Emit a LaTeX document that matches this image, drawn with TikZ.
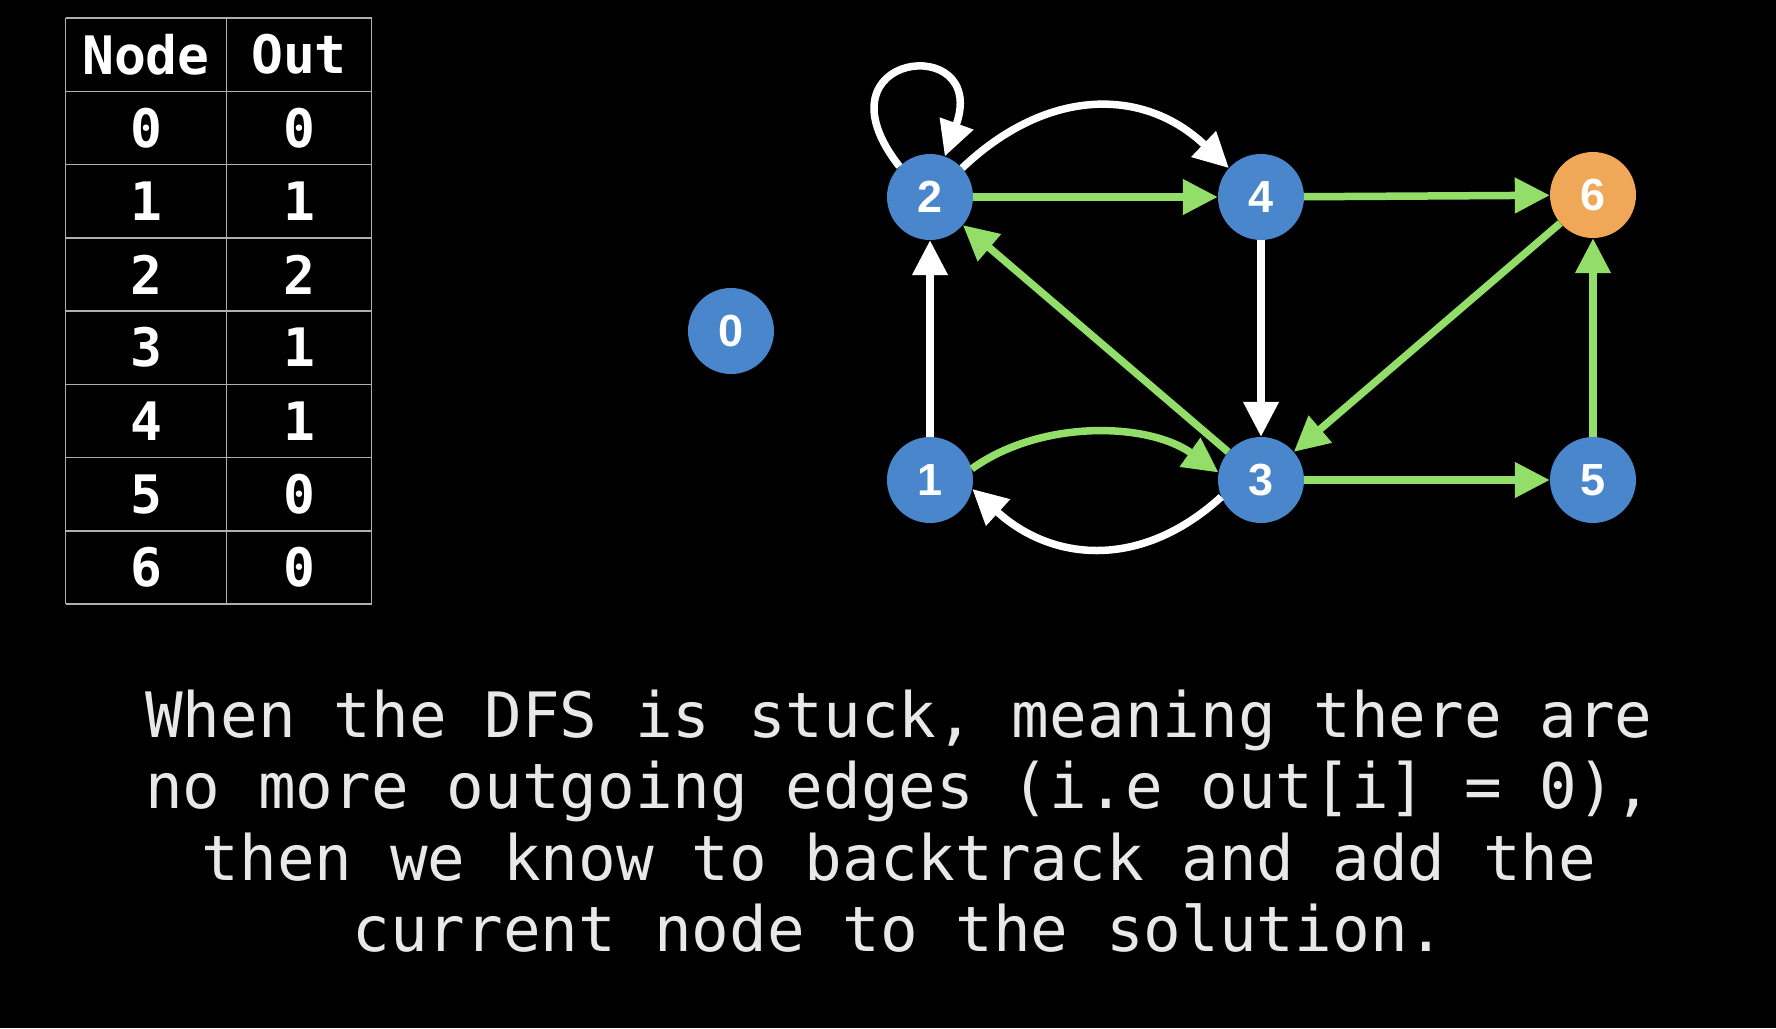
\documentclass[tikz,border=0pt]{standalone}
\usepackage{fontspec}
\setmainfont{Liberation Sans}
\setmonofont{DejaVu Sans Mono}
\usetikzlibrary{arrows.meta}
\definecolor{vertex-color}{RGB}{74,134,204}
\definecolor{stuck-color}{RGB}{240,168,88}
\definecolor{path-color}{RGB}{146,222,104}
\definecolor{grid-color}{RGB}{175,175,175}
\definecolor{caption-color}{RGB}{232,232,232}

\tikzset{
  vertex/.style={circle,fill=vertex-color,minimum size=86pt,inner sep=0pt,text=white,font=\fontsize{45}{45}\selectfont\bfseries},
  wedge/.style={draw=white,line width=7.5pt,-{Triangle[length=35pt,width=34pt]}},
  used/.style={wedge,draw=path-color},
  cell/.style={text=white,font=\ttfamily\bfseries\fontsize{53}{53}\selectfont},
  caption/.style={anchor=base,text=caption-color,font=\ttfamily\fontsize{62.6}{72}\selectfont}
}

\begin{document}
\begin{tikzpicture}[x=1pt,y=1pt]
	    \fill[black] (0,0) rectangle (1776,-1028);
	    \useasboundingbox (0,0) rectangle (1776,-1028);
	
	    % out table
	    \foreach \r in {0,...,8}
	        \draw[grid-color,line width=1.5pt] (65.7,{-18-73.25*\r}) -- (371.5,{-18-73.25*\r});
	    \foreach \c in {65.7,226.5,371.5}
	        \draw[grid-color,line width=1.5pt] (\c,-18) -- (\c,-604);
	    \node[cell] (head-node) at (146,-54.6) {Node};
	    \node[cell] (head-out) at (299,-54.6) {Out};
	    \foreach \k/\o in {0/0,1/1,2/2,3/1,4/1,5/0,6/0} {
	        \node[cell] (node-\k) at (146,{-18-73.25*(\k+1.5)}) {\k};
	        \node[cell] (out-\k) at (299,{-18-73.25*(\k+1.5)}) {\o};
	    }
	
	    % graph
	    \node[vertex] (v0) at (731,-331) {0};
	    \node[vertex] (v1) at (930,-480) {1};
	    \node[vertex] (v2) at (930,-197) {2};
	    \node[vertex] (v3) at (1261,-480) {3};
	    \node[vertex] (v4) at (1261,-197) {4};
	    \node[vertex] (v5) at (1593,-480) {5};
	    \node[vertex,fill=stuck-color] (v6) at (1593,-195) {6};
	
	    \draw[wedge] (v2.135) .. controls +(-90,115) and +(45,125) .. (v2.70);
	    \draw[wedge] (v2.42) .. controls +(85,81) and +(-85,81) .. (v4.138);
	    \draw[wedge] (v4) -- (v3);
	    \draw[wedge] (v1) -- (v2);
	    \draw[wedge] (v3.203) .. controls +(-80,-73) and +(80,-73) .. (v1.348);
	    \draw[used] (v1.15) .. controls +(70,50) and +(-70,50) .. (v3.170);
	    \draw[used] (v2) -- (v4);
	    \draw[used] (v4) -- (v6);
	    \draw[used] (v6) -- (v3);
	    \draw[used] (v3) -- (v5);
	    \draw[used] (v5) -- (v6);
	    \draw[used] (v3) -- (v2);
	
	    \node[caption] (line1) at (899,-737) {When the DFS is stuck, meaning there are};
	    \node[caption] (line2) at (899,-808.5) {no more outgoing edges (i.e out[i] = 0),};
	    \node[caption] (line3) at (899,-880) {then we know to backtrack and add the};
	    \node[caption] (line4) at (899,-951.5) {current node to the solution.};
	\end{tikzpicture}
\end{document}
